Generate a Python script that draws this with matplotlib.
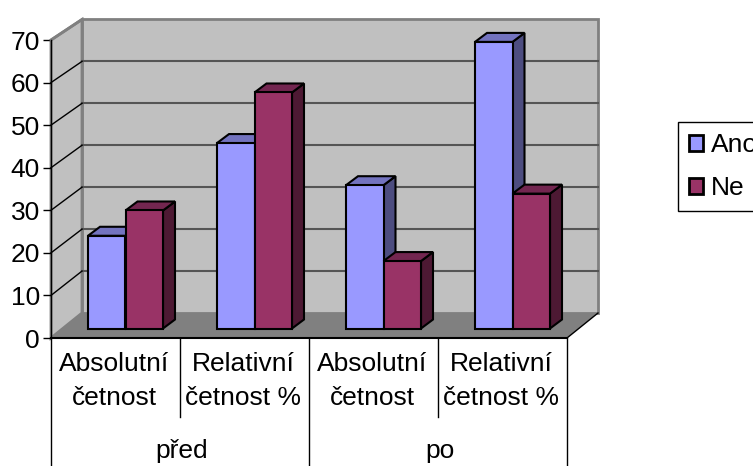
import numpy as np
import matplotlib
matplotlib.use('Agg')
import matplotlib.pyplot as plt
from matplotlib.patches import Polygon, Patch

plt.rcParams['font.family'] = ['Liberation Sans', 'DejaVu Sans']

# data
series_names = ['Ano', 'Ne']
ano_values = [22, 44, 34, 68]
ne_values = [28, 56, 16, 32]
sub_labels = ['Absolutní\nčetnost', 'Relativní\nčetnost %', 'Absolutní\nčetnost', 'Relativní\nčetnost %']
group_labels = ['před', 'po']
y_ticks = [0, 10, 20, 30, 40, 50, 60, 70]

W, H = 753, 466
fig = plt.figure(figsize=(W / 100, H / 100), dpi=100)
# front plane of the 3d box, in pixels
left, right, top, bottom = 51, 567, 40, 338
ax = fig.add_axes([left / W, 1 - bottom / H, (right - left) / W, (bottom - top) / H])
ax.set_xlim(0, 4)
ax.set_ylim(0, 70)
ax.patch.set_visible(False)

# pixel offsets -> data units
ux = 4 / (right - left)
uy = 70 / (bottom - top)
depth_x = 31 * ux
depth_y = 25 * uy
wall_scale = 0.985


def poly(points, face, edge='none', lw=0, z=1):
    ax.add_patch(Polygon(points, closed=True, facecolor=face, edgecolor=edge,
                         linewidth=lw, zorder=z, clip_on=False, joinstyle='miter'))


# walls and floor
back_top = depth_y + 70 * wall_scale
poly([(depth_x, depth_y), (4 + depth_x, depth_y), (4 + depth_x, back_top), (depth_x, back_top)],
     '#c0c0c0', '#808080', 2, 1)
poly([(0, 0), (depth_x, depth_y), (depth_x, back_top), (0, 70)], '#c0c0c0', '#808080', 2, 1)
poly([(0, 0), (4, 0), (4 + depth_x, depth_y), (depth_x, depth_y)], '#808080', z=2)

# grid lines on the walls
for v in y_ticks[1:-1]:
    yb = depth_y + v * wall_scale
    ax.plot([depth_x, 4 + depth_x], [yb, yb], color='#555555', lw=1.5, zorder=2, clip_on=False)
    ax.plot([0, depth_x], [v, yb], color='black', lw=1, zorder=2, clip_on=False)
ax.plot([0, depth_x], [70, back_top], color='#808080', lw=2, zorder=2, clip_on=False)
ax.plot([4, 4 + depth_x], [0, depth_y], color='black', lw=1, zorder=3, clip_on=False)


def bar3d(x0, value, width, front, side, topc, z):
    bx = 10 * ux
    by = 9.5 * uy
    dx = 12 * ux
    dy = 9 * uy
    x0 = x0 + bx
    x1 = x0 + width
    y0 = by
    y1 = by + value * 0.99
    poly([(x1, y0), (x1 + dx, y0 + dy), (x1 + dx, y1 + dy), (x1, y1)], side, 'black', 1.5, z)
    poly([(x0, y1), (x1, y1), (x1 + dx, y1 + dy), (x0 + dx, y1 + dy)], topc, 'black', 1.5, z)
    poly([(x0, y0), (x1, y0), (x1, y1), (x0, y1)], front, 'black', 1.5, z + 0.1)


bar_w = 37.5 * ux
positions = np.arange(4) + 0.5
for i, pos in enumerate(positions):
    # back to front so that neighbours overlap like the original
    bar3d(pos - bar_w, ano_values[i], bar_w, '#9999ff', '#4d4d80', '#7373bf', 4 + i)
    bar3d(pos, ne_values[i], bar_w, '#993366', '#4d1933', '#732650', 4.5 + i)

# axes
for s in ['top', 'right', 'bottom']:
    ax.spines[s].set_visible(False)
ax.spines['left'].set_color('black')
ax.spines['left'].set_linewidth(1)
ax.spines['left'].set_zorder(5)
ax.plot([0, 4], [0, 0], color='black', lw=1.5, zorder=5, clip_on=False)
ax.set_yticks(y_ticks)
ax.tick_params(axis='y', labelsize=19, length=6, width=1, pad=2)
ax.set_xticks([])

# two level category axis
level1 = -79 * uy
level2 = -127 * uy
for i, pos in enumerate(positions):
    ax.text(pos - 0.01, -43 * uy, sub_labels[i], ha='center', va='center', fontsize=19,
            linespacing=1.55, clip_on=False)
for i in range(5):
    low = level2 if i % 2 == 0 else level1
    ax.plot([i, i], [0, low], color='black', lw=1, clip_on=False, zorder=5)
for i, name in enumerate(group_labels):
    ax.text(1 + 2 * i + 0.015, -113 * uy, name, ha='center', va='center', fontsize=19, clip_on=False)

# legend
handles = [Patch(facecolor='#9999ff', edgecolor='black', linewidth=2, label=series_names[0]),
           Patch(facecolor='#993366', edgecolor='black', linewidth=2, label=series_names[1])]
leg = fig.legend(handles=handles, loc='lower left', bbox_to_anchor=(678 / W, 1 - 210.5 / H),
                 bbox_transform=fig.transFigure, fontsize=19, frameon=True, fancybox=False,
                 edgecolor='black', framealpha=1, borderpad=0.4, borderaxespad=0,
                 handlelength=0.55, handleheight=0.55, handletextpad=0.28, labelspacing=0.72)
leg.get_frame().set_linewidth(1)

fig.savefig('out.png', dpi=100)
